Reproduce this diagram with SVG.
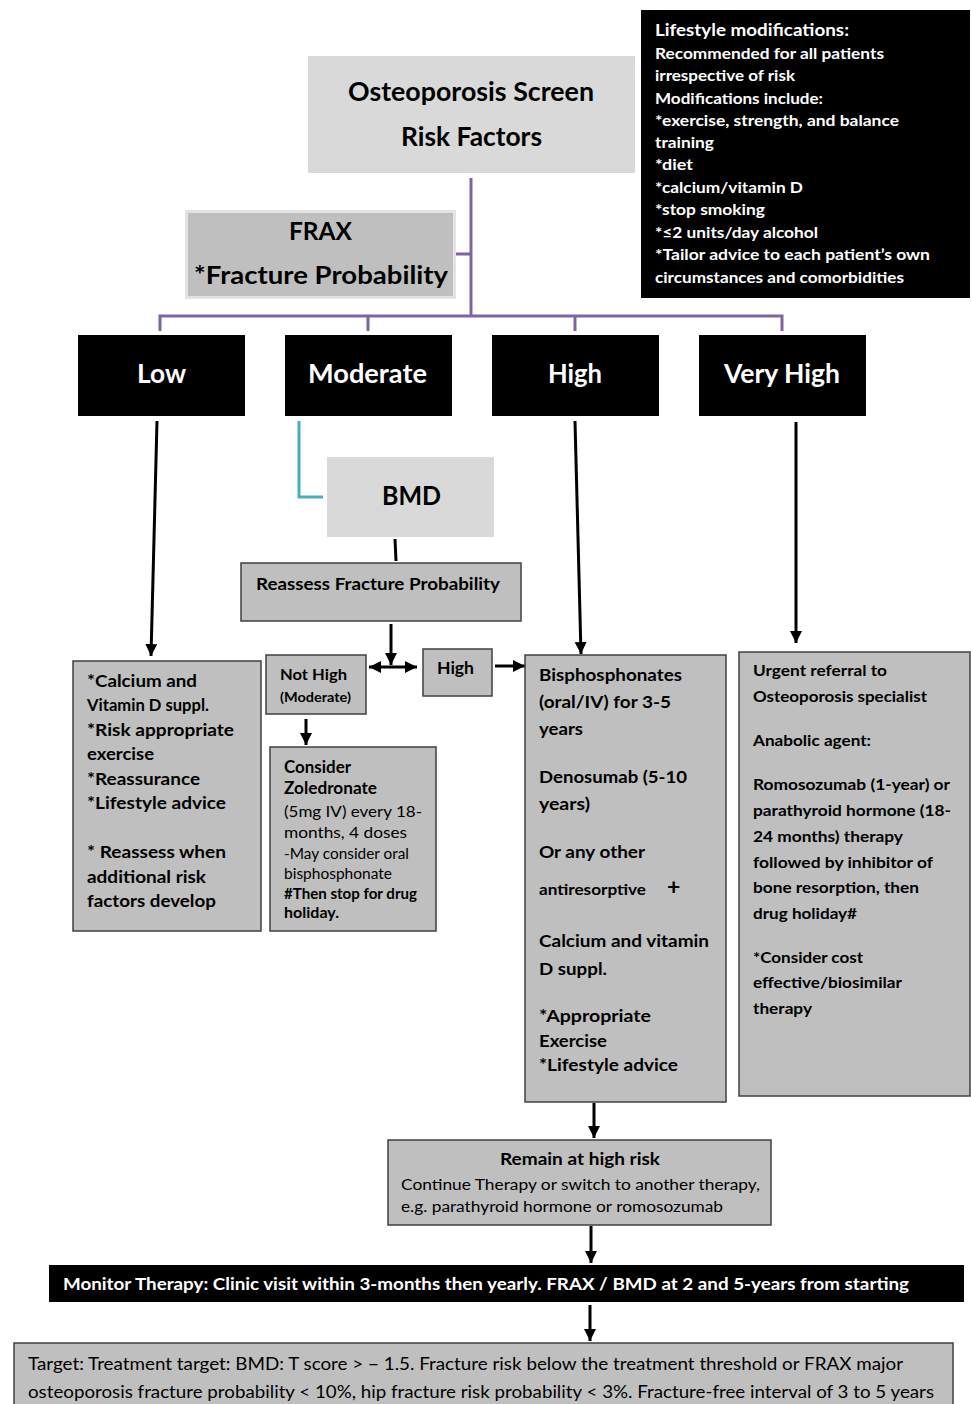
<svg xmlns="http://www.w3.org/2000/svg" width="971" height="1404" viewBox="0 0 971 1404">
<defs>
<marker id="ah" markerUnits="userSpaceOnUse" markerWidth="14" markerHeight="14" refX="12" refY="6" orient="auto-start-reverse">
<path d="M0,0 L12,6 L0,12 Z" fill="#000"/>
</marker>
<style>
text{font-family:Lato,"Open Sans","Liberation Sans",sans-serif;fill:#000}
.b{font-weight:bold}
.w{fill:#fff}
.mid{text-anchor:middle}
.gray{fill:#bfbfbf;stroke:#404040;stroke-width:1.5}
.light{fill:#d9d9d9}
.blk{fill:#000}
.pur{stroke:#8064a2;stroke-width:3;fill:none}
.ar{stroke:#000;stroke-width:3;fill:none}
</style>
</defs>
<rect width="971" height="1404" fill="#fff"/>

<g id="connectors">
<path class="pur" d="M471,178 V316 M456,254 H471 M160,331 V316 H782 V331 M368,316 V331 M575,316 V331"/>
<path d="M299,421 V497 H323" stroke="#4bacc6" stroke-width="3" fill="none"/>
<line class="ar" x1="157" y1="421" x2="151" y2="656" marker-end="url(#ah)"/>
<line class="ar" x1="395" y1="539" x2="396" y2="561"/>
<line class="ar" x1="391" y1="624" x2="391" y2="665" marker-end="url(#ah)"/>
<line class="ar" x1="369" y1="667" x2="417" y2="667" marker-start="url(#ah)" marker-end="url(#ah)"/>
<line class="ar" x1="495" y1="666" x2="525" y2="666" marker-end="url(#ah)"/>
<line class="ar" x1="306" y1="719" x2="306" y2="745" marker-end="url(#ah)"/>
<line class="ar" x1="575" y1="421" x2="581" y2="654" marker-end="url(#ah)"/>
<line class="ar" x1="796" y1="422" x2="796" y2="643" marker-end="url(#ah)"/>
<line class="ar" x1="594" y1="1103" x2="594" y2="1138" marker-end="url(#ah)"/>
<line class="ar" x1="591" y1="1226" x2="591" y2="1263" marker-end="url(#ah)"/>
<line class="ar" x1="590" y1="1305" x2="590" y2="1341" marker-end="url(#ah)"/>
</g>

<g id="lifestyle">
<rect x="641" y="10" width="329" height="288" class="blk"/>
<text class="b w" font-size="17" x="655" y="36" textLength="194" lengthAdjust="spacingAndGlyphs">Lifestyle modifications:</text>
<g class="b" font-size="16">
<text class="w" x="655" y="59" textLength="229" lengthAdjust="spacingAndGlyphs">Recommended for all patients</text>
<text class="w" x="655" y="81" textLength="140" lengthAdjust="spacingAndGlyphs">irrespective of risk</text>
<text class="w" x="655" y="104" textLength="168" lengthAdjust="spacingAndGlyphs">Modifications include:</text>
<text class="w" x="655" y="126" textLength="244" lengthAdjust="spacingAndGlyphs">*exercise, strength, and balance</text>
<text class="w" x="655" y="148" textLength="59" lengthAdjust="spacingAndGlyphs">training</text>
<text class="w" x="655" y="170" textLength="38" lengthAdjust="spacingAndGlyphs">*diet</text>
<text class="w" x="655" y="193" textLength="148" lengthAdjust="spacingAndGlyphs">*calcium/vitamin D</text>
<text class="w" x="655" y="215" textLength="110" lengthAdjust="spacingAndGlyphs">*stop smoking</text>
<text class="w" x="655" y="238" textLength="163" lengthAdjust="spacingAndGlyphs">*≤2 units/day alcohol</text>
<text class="w" x="655" y="260" textLength="275" lengthAdjust="spacingAndGlyphs">*Tailor advice to each patient’s own</text>
<text class="w" x="655" y="283" textLength="249" lengthAdjust="spacingAndGlyphs">circumstances and comorbidities</text>
</g>
</g>

<g id="screen">
<rect x="308" y="56" width="327" height="117" class="light"/>
<text class="b mid" font-size="26" x="471" y="101" textLength="246" lengthAdjust="spacingAndGlyphs">Osteoporosis Screen</text>
<text class="b mid" font-size="26" x="471.5" y="146" textLength="141" lengthAdjust="spacingAndGlyphs">Risk Factors</text>
</g>

<g id="frax">
<rect x="186.5" y="211.5" width="268" height="86" fill="#bfbfbf" stroke="#e3e3e3" stroke-width="3"/>
<text class="b mid" font-size="24" x="320.5" y="240" textLength="63" lengthAdjust="spacingAndGlyphs">FRAX</text>
<text class="b mid" font-size="25" x="321" y="284" textLength="254" lengthAdjust="spacingAndGlyphs">*Fracture Probability</text>
</g>

<g id="low">
<rect x="78" y="335" width="167" height="81" class="blk"/>
<text class="b w mid" font-size="26" x="161.5" y="383" textLength="49" lengthAdjust="spacingAndGlyphs">Low</text>
</g>
<g id="moderate">
<rect x="285" y="335" width="167" height="81" class="blk"/>
<text class="b w mid" font-size="26" x="367.5" y="383" textLength="119" lengthAdjust="spacingAndGlyphs">Moderate</text>
</g>
<g id="high">
<rect x="492" y="335" width="167" height="81" class="blk"/>
<text class="b w mid" font-size="26" x="575" y="383" textLength="54" lengthAdjust="spacingAndGlyphs">High</text>
</g>
<g id="veryhigh">
<rect x="699" y="335" width="167" height="81" class="blk"/>
<text class="b w mid" font-size="26" x="782" y="383" textLength="116" lengthAdjust="spacingAndGlyphs">Very High</text>
</g>

<g id="bmd">
<rect x="327" y="457" width="167" height="80" class="light"/>
<text class="b mid" font-size="26" x="411.5" y="505" textLength="59" lengthAdjust="spacingAndGlyphs">BMD</text>
</g>

<g id="reassess">
<rect x="241" y="563" width="280" height="58" class="gray"/>
<text class="b" font-size="17" x="256" y="590" textLength="244" lengthAdjust="spacingAndGlyphs">Reassess Fracture Probability</text>
</g>

<g id="nothigh">
<rect x="266" y="655" width="100" height="59" class="gray"/>
<text class="b" font-size="16" x="280" y="680" textLength="67" lengthAdjust="spacingAndGlyphs">Not High</text>
<text class="b" font-size="12.5" x="280" y="702" textLength="71" lengthAdjust="spacingAndGlyphs">(Moderate)</text>
</g>

<g id="highsmall">
<rect x="423" y="649" width="69" height="47" class="gray"/>
<text class="b" font-size="17" x="437" y="674" textLength="37" lengthAdjust="spacingAndGlyphs">High</text>
</g>

<g id="lowbox">
<rect x="73" y="661" width="188" height="270" class="gray"/>
<g class="b" font-size="17.5">
<text x="87" y="687" textLength="110" lengthAdjust="spacingAndGlyphs">*Calcium and</text>
<text x="87" y="711" textLength="122" lengthAdjust="spacingAndGlyphs">Vitamin D suppl.</text>
<text x="87" y="736" textLength="147" lengthAdjust="spacingAndGlyphs">*Risk appropriate</text>
<text x="87" y="760" textLength="67" lengthAdjust="spacingAndGlyphs">exercise</text>
<text x="87" y="785" textLength="113" lengthAdjust="spacingAndGlyphs">*Reassurance</text>
<text x="87" y="809" textLength="139" lengthAdjust="spacingAndGlyphs">*Lifestyle advice</text>
<text x="87" y="858" textLength="139" lengthAdjust="spacingAndGlyphs">* Reassess when</text>
<text x="87" y="883" textLength="119" lengthAdjust="spacingAndGlyphs">additional risk</text>
<text x="87" y="907" textLength="129" lengthAdjust="spacingAndGlyphs">factors develop</text>
</g>
</g>

<g id="zoledronate">
<rect x="270" y="747" width="166" height="184" class="gray"/>
<text class="b" font-size="16.5" x="284" y="773" textLength="67" lengthAdjust="spacingAndGlyphs">Consider</text>
<text class="b" font-size="16.5" x="284" y="794" textLength="93" lengthAdjust="spacingAndGlyphs">Zoledronate</text>
<text font-size="16" x="284" y="817" textLength="138" lengthAdjust="spacingAndGlyphs">(5mg IV) every 18-</text>
<text font-size="16" x="284" y="838" textLength="123" lengthAdjust="spacingAndGlyphs">months, 4 doses</text>
<text font-size="14.5" x="284" y="859" textLength="125" lengthAdjust="spacingAndGlyphs">-May consider oral</text>
<text font-size="14.5" x="284" y="879" textLength="108" lengthAdjust="spacingAndGlyphs">bisphosphonate</text>
<text class="b" font-size="14.5" x="284" y="899" textLength="133" lengthAdjust="spacingAndGlyphs">#Then stop for drug</text>
<text class="b" font-size="14.5" x="284" y="918" textLength="55" lengthAdjust="spacingAndGlyphs">holiday.</text>
</g>

<g id="bisphosphonates">
<rect x="525" y="655" width="201" height="447" class="gray"/>
<g class="b" font-size="17.5">
<text x="539" y="681" textLength="143" lengthAdjust="spacingAndGlyphs">Bisphosphonates</text>
<text x="539" y="708" textLength="132" lengthAdjust="spacingAndGlyphs">(oral/IV) for 3-5</text>
<text x="539" y="735" textLength="44" lengthAdjust="spacingAndGlyphs">years</text>
<text x="539" y="783" textLength="148" lengthAdjust="spacingAndGlyphs">Denosumab (5-10</text>
<text x="539" y="810" textLength="51" lengthAdjust="spacingAndGlyphs">years)</text>
<text x="539" y="858" textLength="106" lengthAdjust="spacingAndGlyphs">Or any other</text>
<text x="539" y="895" font-size="15.5" textLength="107" lengthAdjust="spacingAndGlyphs">antiresorptive</text>
<text x="667" y="895" font-size="23">+</text>
<text x="539" y="947" textLength="170" lengthAdjust="spacingAndGlyphs">Calcium and vitamin</text>
<text x="539" y="975" textLength="68" lengthAdjust="spacingAndGlyphs">D suppl.</text>
<text x="539" y="1022" textLength="112" lengthAdjust="spacingAndGlyphs">*Appropriate</text>
<text x="539" y="1047" textLength="68" lengthAdjust="spacingAndGlyphs">Exercise</text>
<text x="539" y="1071" textLength="139" lengthAdjust="spacingAndGlyphs">*Lifestyle advice</text>
</g>
</g>

<g id="urgent">
<rect x="739" y="652" width="231" height="444" class="gray"/>
<g class="b" font-size="16">
<text x="753" y="676" textLength="134" lengthAdjust="spacingAndGlyphs">Urgent referral to</text>
<text x="753" y="702" textLength="174" lengthAdjust="spacingAndGlyphs">Osteoporosis specialist</text>
<text x="753" y="746" textLength="118" lengthAdjust="spacingAndGlyphs">Anabolic agent:</text>
<text x="753" y="790" textLength="197" lengthAdjust="spacingAndGlyphs">Romosozumab (1-year) or</text>
<text x="753" y="816" textLength="198" lengthAdjust="spacingAndGlyphs">parathyroid hormone (18-</text>
<text x="753" y="842" textLength="150" lengthAdjust="spacingAndGlyphs">24 months) therapy</text>
<text x="753" y="868" textLength="180" lengthAdjust="spacingAndGlyphs">followed by inhibitor of</text>
<text x="753" y="893" textLength="166" lengthAdjust="spacingAndGlyphs">bone resorption, then</text>
<text x="753" y="919" textLength="104" lengthAdjust="spacingAndGlyphs">drug holiday#</text>
<text x="753" y="963" textLength="110" lengthAdjust="spacingAndGlyphs">*Consider cost</text>
<text x="753" y="988" textLength="149" lengthAdjust="spacingAndGlyphs">effective/biosimilar</text>
<text x="753" y="1014" textLength="59" lengthAdjust="spacingAndGlyphs">therapy</text>
</g>
</g>

<g id="remain">
<rect x="388" y="1140" width="383" height="85" class="gray"/>
<text class="b mid" font-size="17" x="580" y="1165" textLength="160" lengthAdjust="spacingAndGlyphs">Remain at high risk</text>
<text font-size="15.5" x="401" y="1190" textLength="359" lengthAdjust="spacingAndGlyphs">Continue Therapy or switch to another therapy,</text>
<text font-size="15.5" x="401" y="1212" textLength="322" lengthAdjust="spacingAndGlyphs">e.g. parathyroid hormone or romosozumab</text>
</g>

<g id="monitor">
<rect x="49" y="1265" width="915" height="37" class="blk"/>
<text class="b w" font-size="17" x="63" y="1290" textLength="846" lengthAdjust="spacingAndGlyphs">Monitor Therapy: Clinic visit within 3-months then yearly. FRAX / BMD at 2 and 5-years from starting</text>
</g>

<g id="target">
<rect x="14" y="1343" width="939" height="70" class="gray"/>
<text font-size="17" x="28" y="1370" textLength="875" lengthAdjust="spacingAndGlyphs">Target: Treatment target: BMD: T score &gt; − 1.5. Fracture risk below the treatment threshold or FRAX major</text>
<text font-size="17" x="28" y="1398" textLength="906" lengthAdjust="spacingAndGlyphs">osteoporosis fracture probability &lt; 10%, hip fracture risk probability &lt; 3%. Fracture-free interval of 3 to 5 years</text>
</g>
</svg>
